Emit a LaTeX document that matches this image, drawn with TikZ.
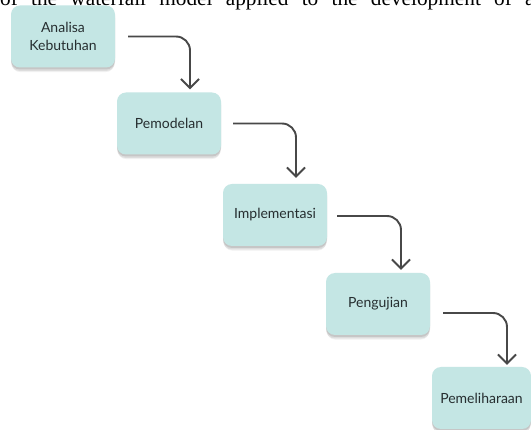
\documentclass[tikz,border=0pt]{standalone}
\usepackage{fontspec}
\setmainfont{Liberation Serif}
\newfontfamily\boxfont{Lato}
\usetikzlibrary{arrows.meta,shadows,calc}
\definecolor{boxfill}{RGB}{196,230,228}
\definecolor{boxtext}{RGB}{38,46,48}
\definecolor{arrowgray}{RGB}{72,72,72}
\tikzset{
  stepbox/.style={
    rounded corners=9pt, fill=boxfill, draw=none,
    minimum width=104pt, minimum height=62pt, inner sep=2pt,
    align=center, text=boxtext,
    font=\boxfont\fontsize{14}{18.5}\selectfont,
    drop shadow={shadow xshift=0pt, shadow yshift=-5pt, shadow scale=0.99, opacity=0.06, fill=black},
    drop shadow={shadow xshift=0pt, shadow yshift=-3.5pt, opacity=0.08, fill=black},
    drop shadow={shadow xshift=0pt, shadow yshift=-2pt, opacity=0.10, fill=black}
  },
  flow/.style={
    draw=arrowgray, line width=1.9pt, rounded corners=14pt,
    -{Straight Barb[length=9pt,width=18pt,line width=1.9pt]}
  }
}
\begin{document}
\begin{tikzpicture}[x=1pt,y=-1pt]
  \useasboundingbox (0,0) rectangle (531,430);
  \fill[white] (0,0) rectangle (531,430);
  % clipped caption line at the top (cut off in the reference too)
  \node[anchor=base west, inner sep=0pt, font=\fontsize{21.3}{24}\selectfont] (cap) at (0,6)
    {\makebox[545pt][s]{of the waterfall model applied to the development of an}};
  % boxes
  \node[stepbox] (a) at (63,36.5) {Analisa\\Kebutuhan};
  \node[stepbox] (b) at (169,123.5) {Pemodelan};
  \node[stepbox] (c) at (275,215) {Implementasi};
  \node[stepbox] (d) at (378,304) {Pengujian};
  \node[stepbox, minimum width=99pt] (e) at (481.5,398) {Pemeliharaan};
  % connectors
  \draw[flow] ([xshift=13pt]a.east) -| ([xshift=21pt,yshift=3pt]b.north);
  \draw[flow] ([xshift=12pt]b.east) -| ([xshift=21pt,yshift=6pt]c.north);
  \draw[flow] ([xshift=10pt,yshift=-1pt]c.east) -| ([xshift=23pt,yshift=3pt]d.north);
  \draw[flow] ([xshift=13pt,yshift=-9pt]d.east) -| ([xshift=25.5pt,yshift=2pt]e.north);
\end{tikzpicture}
\end{document}
